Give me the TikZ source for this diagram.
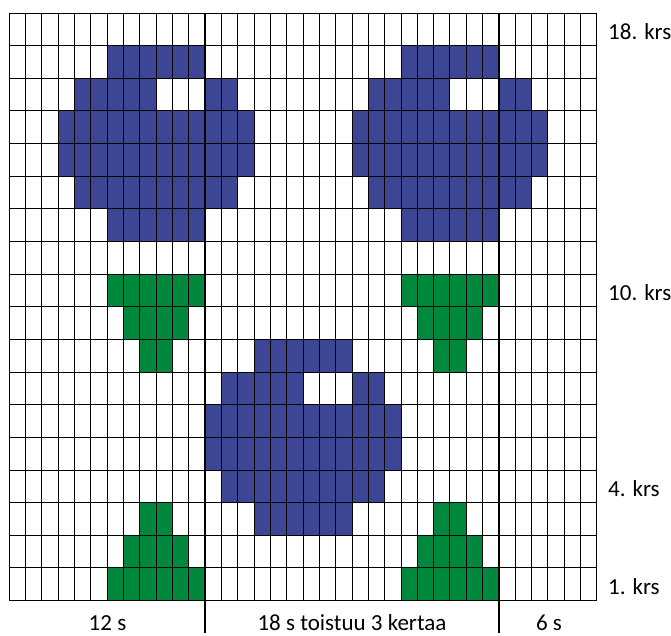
\documentclass[tikz,border=0pt]{standalone}
\usepackage{fontspec}
\setmainfont{Carlito}
\definecolor{flowerblue}{RGB}{61,69,149}
\definecolor{leafgreen}{RGB}{0,137,61}
\tikzset{
  gridline/.style={black,line width=0.9pt},
  heavyline/.style={black,line width=2.4pt},
  rowlabel/.style={anchor=base west,inner sep=0pt,font=\fontsize{23}{26}\selectfont},
  collabel/.style={anchor=base,inner sep=0pt,font=\fontsize{23}{26}\selectfont}
}
\begin{document}
\begin{tikzpicture}[x=1pt,y=-1pt]
\useasboundingbox (0,0) rectangle (671,635);
% blue flowers: base column b, base row r
\foreach \b/\r in {4/12,22/12,13/3}{
  \foreach \da/\db/\dr in {2/7/5, 0/4/4, 8/9/4, -1/10/3, -1/10/2, 0/9/1, 2/7/0}{
    \fill[flowerblue] ({9.3+(\b+\da)*16.32},{13+(18-(\r+\dr))*32.64}) rectangle ({9.3+(\b+\db+1)*16.32},{13+(18-(\r+\dr)+1)*32.64});
  }
}
% green leaves
\foreach \s in {0,18}{
  \foreach \a/\bb/\r in {6/11/10, 7/10/9, 8/9/8, 8/9/3, 7/10/2, 6/11/1}{
    \fill[leafgreen] ({9.3+(\a+\s)*16.32},{13+(18-\r)*32.64}) rectangle ({9.3+(\bb+\s+1)*16.32},{13+(18-\r+1)*32.64});
  }
}
% grid
\foreach \c in {0,...,36}{
  \draw[gridline] ({9.3+\c*16.32},13) -- ({9.3+\c*16.32},{13+18*32.64});
}
\foreach \r in {0,...,18}{
  \draw[gridline] (9.3,{13+\r*32.64}) -- ({9.3+36*16.32},{13+\r*32.64});
}
% repeat boundaries
\coordinate (r1t) at ({9.3+12*16.32},13);
\coordinate (r1b) at ({9.3+12*16.32},633);
\coordinate (r2t) at ({9.3+30*16.32},13);
\coordinate (r2b) at ({9.3+30*16.32},633);
\draw[heavyline] (r1t) -- (r1b);
\draw[heavyline] (r2t) -- (r2b);
% row labels
\node[rowlabel] (k18) at (608,39) {18. krs};
\node[rowlabel] (k10) at (608,300.5) {10. krs};
\node[rowlabel] (k4) at (608,496) {4. krs};
\node[rowlabel] (k1) at (608,594) {1. krs};
% column labels
\node[collabel] (s12) at (107.5,630) {12 s};
\node[collabel] (s18) at (352,630) {18 s toistuu 3 kertaa};
\node[collabel] (s6) at (549,630) {6 s};
\end{tikzpicture}
\end{document}
